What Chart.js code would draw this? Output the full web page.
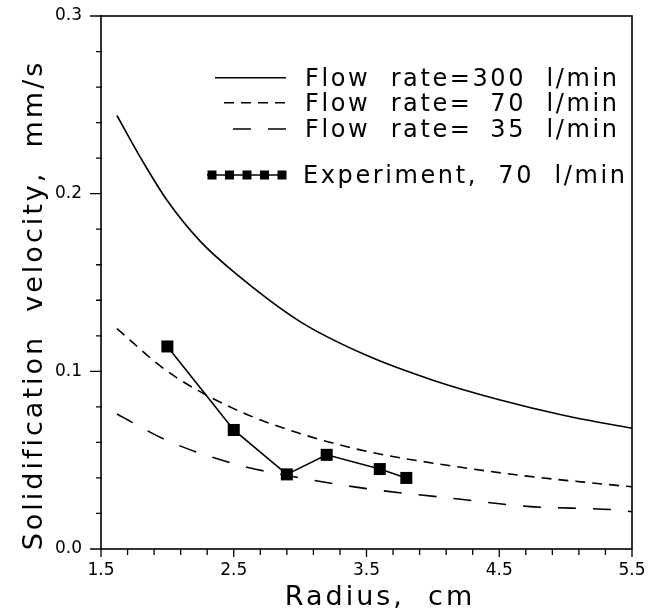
<!DOCTYPE html>
<html lang="en">

<head>
    <meta charset="UTF-8" />
    <title>Solidification velocity vs radius</title>
    <script src="https://cdn.jsdelivr.net/npm/chart.js@4.4.1/dist/chart.umd.min.js"></script>
    <style>
        body { margin: 0; background: #fff; }
        canvas { display: block; }
    </style>
</head>

<body>
    <canvas id="velocityChart" width="655" height="614"></canvas>

    <script>
        // values (radius in cm, velocity in mm/s)
        const radius300 = [1.62, 1.80, 2.00, 2.25, 2.50, 3.00, 3.50, 4.00, 4.50, 5.00, 5.50];
        const velocity300 = [0.244, 0.220, 0.196, 0.173, 0.156, 0.128, 0.109, 0.095, 0.084, 0.075, 0.068];

        const radius70 = [1.62, 2.00, 2.50, 3.00, 3.50, 4.21, 4.71, 5.22, 5.50];
        const velocity70 = [0.124, 0.100, 0.079, 0.065, 0.055, 0.046, 0.041, 0.037, 0.035];

        const radius35 = [1.62, 2.00, 2.50, 3.00, 3.50, 4.21, 4.71, 5.38, 5.50];
        const velocity35 = [0.076, 0.061, 0.048, 0.040, 0.034, 0.028, 0.024, 0.022, 0.021];

        const radiusExp = [2.0, 2.5, 2.9, 3.2, 3.6, 3.8];
        const velocityExp = [0.114, 0.067, 0.042, 0.053, 0.045, 0.040];

        const legendLabels = [
            "Flow  rate=300  l/min",
            "Flow  rate=\u200770  l/min",
            "Flow  rate=\u200735  l/min",
            "Experiment,  70  l/min"
        ];
        const xTitle = "Radius,  cm";
        const yTitle = "Solidification  velocity,  mm/s";

        function toPoints(xs, ys) {
            return xs.map((x, i) => ({ x: x, y: ys[i] }));
        }

        function onStep(v, start, step) {
            const r = (((v - start) % step) + step) % step;
            return r < 1e-6 || step - r < 1e-6;
        }

        const curveStyle = {
            showLine: true,
            borderColor: "#000",
            borderWidth: 1.6,
            pointRadius: 0,
            cubicInterpolationMode: "monotone",
            borderCapStyle: "butt"
        };

        // frame, tick marks, axis titles and the legend are drawn by hand
        const paperPlugin = {
            id: "paper",
            afterDraw(chart) {
                const ctx = chart.ctx;
                const area = chart.chartArea;
                const xs = chart.scales.x;
                const ys = chart.scales.y;
                ctx.save();
                ctx.strokeStyle = "#000";
                ctx.fillStyle = "#000";

                ctx.lineWidth = 1.6;
                ctx.strokeRect(area.left, area.top, area.right - area.left, area.bottom - area.top);

                ctx.lineWidth = 1.3;
                ctx.beginPath();
                xs.ticks.forEach(t => {
                    const px = xs.getPixelForValue(t.value);
                    const major = onStep(t.value, 1.5, 1);
                    ctx.moveTo(px, area.bottom);
                    ctx.lineTo(px, area.bottom + (major ? 8 : 6));
                });
                ys.ticks.forEach(t => {
                    const py = ys.getPixelForValue(t.value);
                    const major = onStep(t.value, 0, 0.1);
                    ctx.moveTo(area.left - (major ? 11 : 5), py);
                    ctx.lineTo(area.left + 1, py);
                });
                ctx.stroke();

                // axis titles
                ctx.font = '27px "DejaVu Sans"';
                ctx.letterSpacing = "3px";
                ctx.textAlign = "center";
                ctx.textBaseline = "alphabetic";
                ctx.fillText(xTitle, 380, 605);
                ctx.save();
                ctx.translate(42, 305);
                ctx.rotate(-Math.PI / 2);
                ctx.fillText(yTitle, 0, 0);
                ctx.restore();

                // legend
                const rowY = [77.7, 102.7, 129, 175];
                const sampleStart = [215, 224, 233, 207];
                const sampleEnd = 286;
                ctx.font = '24px "DejaVu Sans"';
                ctx.letterSpacing = "2.6px";
                ctx.textAlign = "left";
                chart.data.datasets.forEach((ds, i) => {
                    const y = rowY[i];
                    ctx.lineWidth = ds.borderWidth;
                    ctx.setLineDash(ds.borderDash || []);
                    ctx.beginPath();
                    ctx.moveTo(sampleStart[i], y);
                    ctx.lineTo(sampleEnd, y);
                    ctx.stroke();
                    ctx.setLineDash([]);
                    if (ds.pointRadius > 0) {
                        for (let k = 0; k < 5; k++) {
                            const cx = 212 + k * 17.5;
                            ctx.fillRect(cx - 4.5, y - 4.5, 9, 9);
                        }
                    }
                    ctx.fillText(legendLabels[i], i === 3 ? 303 : 305, y + 8);
                });
                ctx.restore();
            }
        };

        const ctx = document.getElementById("velocityChart");
        const velocityChart = new Chart(ctx, {
            type: "scatter",
            data: {
                datasets: [
                    Object.assign({ label: legendLabels[0], data: toPoints(radius300, velocity300) }, curveStyle),
                    Object.assign({ label: legendLabels[1], data: toPoints(radius70, velocity70), borderDash: [10, 7] }, curveStyle),
                    Object.assign({ label: legendLabels[2], data: toPoints(radius35, velocity35), borderDash: [18, 17] }, curveStyle),
                    {
                        label: legendLabels[3],
                        data: toPoints(radiusExp, velocityExp),
                        showLine: true,
                        borderColor: "#000",
                        backgroundColor: "#000",
                        borderWidth: 1.6,
                        pointStyle: "rect",
                        pointRadius: 8.5,
                        pointBorderWidth: 0
                    }
                ]
            },
            options: {
                responsive: false,
                animation: false,
                layout: { padding: { top: 16, right: 23, left: 0, bottom: 0 } },
                plugins: {
                    legend: { display: false },
                    tooltip: { enabled: false }
                },
                scales: {
                    x: {
                        type: "linear",
                        min: 1.5,
                        max: 5.5,
                        border: { display: false },
                        grid: { display: false, drawTicks: false },
                        ticks: {
                            stepSize: 0.2,
                            autoSkip: false,
                            maxRotation: 0,
                            padding: 11,
                            color: "#000",
                            font: { family: "DejaVu Sans", size: 17 },
                            callback: v => onStep(v, 1.5, 1) ? v.toFixed(1) : ""
                        },
                        afterFit: scale => {
                            scale.height = 65;
                            scale.paddingLeft = 0;
                            scale.paddingRight = 0;
                        }
                    },
                    y: {
                        min: 0,
                        max: 0.3,
                        border: { display: false },
                        grid: { display: false, drawTicks: false },
                        ticks: {
                            stepSize: 0.02,
                            autoSkip: false,
                            padding: 19,
                            color: "#000",
                            font: { family: "DejaVu Sans", size: 17 },
                            callback: v => onStep(v, 0, 0.1) ? v.toFixed(1) : ""
                        },
                        afterFit: scale => {
                            scale.width = 101;
                            scale.paddingTop = 0;
                            scale.paddingBottom = 0;
                        }
                    }
                }
            },
            plugins: [paperPlugin]
        });
    </script>
</body>

</html>
